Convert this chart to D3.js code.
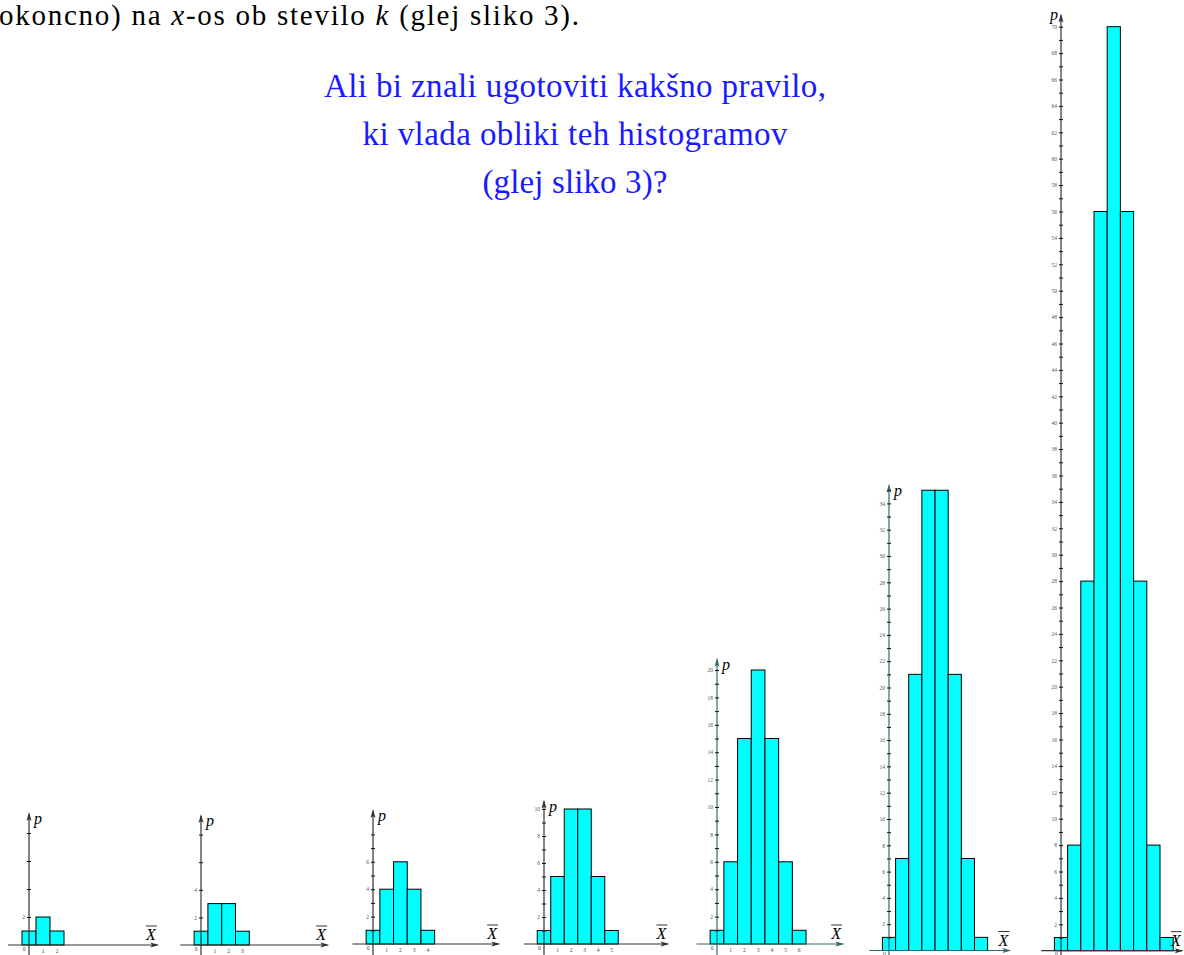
<!DOCTYPE html>
<html>
<head>
<meta charset="utf-8">
<script src="https://cdn.jsdelivr.net/npm/d3@7/dist/d3.min.js"></script>
<style>
  html, body { margin: 0; padding: 0; background: #fff; overflow: hidden; }
  svg { display: block; }
  text { font-family: "Liberation Serif", "DejaVu Serif", serif; }
</style>
</head>
<body>
<svg id="canvas" width="1184" height="955"></svg>
<script>
// Vrednosti histogramov (stolpci za k = 0..n)
const stolpci2 = [1, 2, 1];
const stolpci3 = [1, 3, 3, 1];
const stolpci4 = [1, 4, 6, 4, 1];
const stolpci5 = [1, 5, 10, 10, 5, 1];
const stolpci6 = [1, 6, 15, 20, 15, 6, 1];
const stolpci7 = [1, 7, 21, 35, 35, 21, 7, 1];
const stolpci8 = [1, 8, 28, 56, 70, 56, 28, 8, 1];

// Zadnja oznacena vrednost na y-osi za vsak histogram
const oznakeMax = [2, 4, 6, 10, 20, 34, 70];
// Vrh y-osi (v enotah) in korak malih crtic
const osVrh = [9.5, 9.5, 9.85, 10.7, 20.9, 35.5, 71];
const osMax = [8, 8, 8, 10, 20, 35, 70];
const osKorak = [2, 2, 1, 1, 1, 1, 1];

const histogrami = [stolpci2, stolpci3, stolpci4, stolpci5, stolpci6, stolpci7, stolpci8];

// Postavitev posameznih histogramov na strani
const postavitev = [
    { ox: 29,   oy: 945,   u: 14.0, barva: "#333" },
    { ox: 201,  oy: 945,   u: 13.8, barva: "#333" },
    { ox: 373,  oy: 944,   u: 13.7, barva: "#333" },
    { ox: 544,  oy: 944,   u: 13.5, barva: "#333" },
    { ox: 717,  oy: 944,   u: 13.7, barva: "#2f6a6a" },
    { ox: 889,  oy: 950.5, u: 13.15, barva: "#2f6a6a" },
    { ox: 1061, oy: 950.7, u: 13.2, barva: "#333" }
];

const svg = d3.select("#canvas");

// Besedilo zgoraj
const vrstica = svg.append("text")
    .attr("x", -1)
    .attr("y", 25)
    .attr("font-size", 29)
    .attr("textLength", 580)
    .attr("lengthAdjust", "spacing")
    .attr("fill", "#000");
vrstica.append("tspan").text("okoncno) na ");
vrstica.append("tspan").attr("font-style", "italic").text("x");
vrstica.append("tspan").text("-os ob stevilo ");
vrstica.append("tspan").attr("font-style", "italic").text("k");
vrstica.append("tspan").text(" (glej sliko 3).");

const vprasanje = [
    "Ali bi znali ugotoviti kakšno pravilo,",
    "ki vlada obliki teh histogramov",
    "(glej sliko 3)?"
];
const sirine = [502, 425, 185];
svg.selectAll(".vprasanje")
    .data(vprasanje)
    .enter()
    .append("text")
    .attr("class", "vprasanje")
    .attr("x", (d, i) => 575 - sirine[i] / 2)
    .attr("y", (d, i) => 97 + i * 48)
    .attr("font-size", 33)
    .attr("textLength", (d, i) => sirine[i])
    .attr("lengthAdjust", "spacing")
    .attr("fill", "#1a1aff")
    .text(d => d);

histogrami.forEach((vrednosti, i) => dibujaj(vrednosti, i));

function dibujaj(vrednosti, i) {
    const p = postavitev[i];
    const g = svg.append("g");
    const barva = p.barva;

    const x = d3.scaleLinear()
        .domain([0, 1])
        .range([p.ox, p.ox + p.u]);
    const y = d3.scaleLinear()
        .domain([0, 1])
        .range([p.oy, p.oy - p.u]);

    // Stolpci
    g.selectAll("rect")
        .data(vrednosti)
        .enter()
        .append("rect")
        .attr("x", (d, k) => x(k - 0.5))
        .attr("y", d => y(d))
        .attr("width", (d, k) => x(k + 0.5) - x(k - 0.5))
        .attr("height", d => y(0) - y(d))
        .attr("fill", "#00ffff")
        .attr("stroke", "#000")
        .attr("stroke-width", 1);

    // x-os
    const xKonec = x(9.3);
    g.append("line")
        .attr("x1", x(-1.5)).attr("x2", xKonec - 2)
        .attr("y1", y(0)).attr("y2", y(0))
        .attr("stroke", barva).attr("stroke-width", 1.2);
    g.append("path")
        .attr("d", `M${xKonec},${y(0)} l-9,-2.5 l2,2.5 l-2,2.5 z`)
        .attr("fill", barva);

    // oznake na x-osi
    g.selectAll(".xo")
        .data(vrednosti)
        .enter()
        .append("text")
        .attr("x", (d, k) => k === 0 ? x(-0.35) : x(k))
        .attr("y", (d, k) => k === 0 ? y(0) + 5.5 : y(0) + 8)
        .attr("text-anchor", "middle")
        .attr("font-size", 5.5)
        .attr("fill", "#444")
        .text((d, k) => k);

    // y-os
    const yVrh = y(osVrh[i]);
    g.append("line")
        .attr("x1", x(0)).attr("x2", x(0))
        .attr("y1", y(-0.8)).attr("y2", yVrh + 2)
        .attr("stroke", barva).attr("stroke-width", 1.2);
    g.append("path")
        .attr("d", `M${x(0)},${yVrh} l-2.5,9 l2.5,-2 l2.5,2 z`)
        .attr("fill", barva);

    const male = d3.range(osKorak[i], osMax[i] + 0.01, osKorak[i]);
    const oznake = d3.range(2, oznakeMax[i] + 0.01, 2);

    const osL = d3.axisLeft(y)
        .tickValues(male)
        .tickSize(2)
        .tickPadding(2)
        .tickFormat(v => oznake.includes(v) ? v : "");
    const osD = d3.axisRight(y)
        .tickValues(male)
        .tickSize(2)
        .tickFormat("");

    const gl = g.append("g").attr("transform", `translate(${x(0)},0)`).call(osL);
    const gd = g.append("g").attr("transform", `translate(${x(0)},0)`).call(osD);
    [gl, gd].forEach(a => {
        a.select(".domain").remove();
        a.selectAll("line").attr("stroke", "#111").attr("stroke-width", 1);
    });
    gl.selectAll("text")
        .attr("font-family", null)
        .attr("font-size", 5.5)
        .attr("fill", "#555");

    // oznaka p
    const pNaLevi = i === 6;
    g.append("text")
        .attr("x", pNaLevi ? x(0) - 3 : x(0) + 5)
        .attr("y", pNaLevi ? yVrh + 6 : yVrh + 12)
        .attr("text-anchor", pNaLevi ? "end" : "start")
        .attr("font-style", "italic")
        .attr("font-size", 16)
        .text("p");

    // oznaka X s crto
    const xl = g.append("g");
    xl.append("text")
        .attr("x", x(8.7))
        .attr("y", y(0) - 5)
        .attr("text-anchor", "middle")
        .attr("font-style", "italic")
        .attr("font-size", 16)
        .text("X");
    xl.append("line")
        .attr("x1", x(8.7) - 5).attr("x2", x(8.7) + 6)
        .attr("y1", y(0) - 19).attr("y2", y(0) - 19)
        .attr("stroke", "#000").attr("stroke-width", 0.8);
}
</script>
</body>
</html>
